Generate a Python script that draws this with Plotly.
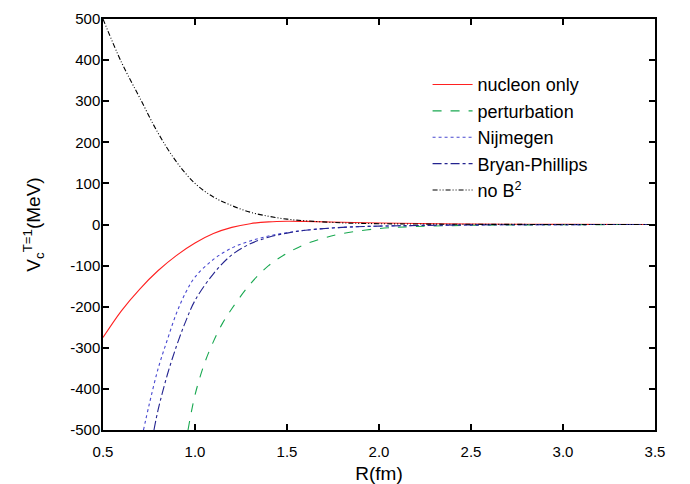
import plotly.graph_objects as go

# Data
r_nucleon = [0.5, 0.6, 0.7, 0.8, 0.9, 1.0, 1.1, 1.2, 1.3, 1.4, 1.5, 1.6, 1.8, 2.0, 2.5, 3.0, 3.5]
v_nucleon = [-275, -210, -157, -112, -75, -45, -22, -7, 2, 6.5, 8, 7.5, 5.5, 3.5, 1.2, 0.4, 0.1]

r_pert = [0.962, 1.0, 1.05, 1.1, 1.15, 1.2, 1.3, 1.4, 1.5, 1.6, 1.7, 1.8, 2.0, 2.2, 2.5, 3.0, 3.5]
v_pert = [-500, -415, -340, -285, -240, -205, -145, -100, -70, -48, -33, -22, -10, -5, -2, -0.5, 0]

r_nij = [0.72, 0.75, 0.8, 0.85, 0.9, 0.95, 1.0, 1.1, 1.2, 1.3, 1.4, 1.5, 1.6, 1.8, 2.0, 2.5, 3.0, 3.5]
v_nij = [-500, -440, -350, -280, -215, -165, -128, -85, -57, -40, -28, -20, -14, -7, -4, -1, -0.3, 0]

r_bp = [0.777, 0.8, 0.85, 0.9, 0.95, 1.0, 1.1, 1.2, 1.3, 1.4, 1.5, 1.6, 1.8, 2.0, 2.5, 3.0, 3.5]
v_bp = [-500, -450, -365, -295, -235, -185, -120, -74, -47, -31, -21, -14, -7, -4, -1, -0.3, 0]

r_nob2 = [0.5, 0.6, 0.7, 0.8, 0.9, 1.0, 1.1, 1.2, 1.3, 1.4, 1.5, 1.6, 1.8, 2.0, 2.5, 3.0, 3.5]
v_nob2 = [500, 395, 308, 222, 152, 100, 67, 46, 30, 20, 13, 9, 4, 2, 0.5, 0.1, 0]

x_ticks = [0.5, 1.0, 1.5, 2.0, 2.5, 3.0, 3.5]
y_ticks = [-500, -400, -300, -200, -100, 0, 100, 200, 300, 400, 500]

series = [
    ("nucleon only", r_nucleon, v_nucleon, "#ff2020", "solid"),
    ("perturbation", r_pert, v_pert, "#18a850", "dash"),
    ("Nijmegen", r_nij, v_nij, "#4848d0", "dot"),
    ("Bryan-Phillips", r_bp, v_bp, "#23238f", "dashdot"),
    ("no B<sup>2</sup>", r_nob2, v_nob2, "#000000", "5px,2px,1px,2px,1px,2px"),
]

FONT = "Liberation Sans, Arial, sans-serif"

fig = go.Figure()
for name, x, y, color, dash in series:
    fig.add_trace(go.Scatter(
        x=x, y=y, mode="lines", name=name,
        line=dict(color=color, width=1.1, dash=dash, shape="spline", smoothing=1.0),
    ))

axis_common = dict(
    showline=True, linecolor="black", linewidth=1.5, mirror="ticks",
    ticks="inside", ticklen=6, tickwidth=1.5, tickcolor="black",
    showgrid=False, zeroline=False, automargin=False,
    tickfont=dict(family=FONT, size=15, color="black"),
)

fig.update_xaxes(
    range=[0.5, 3.5], tickvals=x_ticks, ticktext=[f"{v:.1f}" for v in x_ticks],
    ticklabelstandoff=7,
    title=dict(text="R(fm)", font=dict(family=FONT, size=19, color="black"), standoff=9),
    **axis_common,
)
fig.update_yaxes(
    range=[-500, 500], tickvals=y_ticks, ticktext=[str(v) for v in y_ticks],
    ticklabelstandoff=-2,
    title=dict(text="V<sub>c</sub><sup>T=1</sup>(MeV)", font=dict(family=FONT, size=19, color="black"), standoff=25),
    **axis_common,
)

fig.update_layout(
    width=690, height=484,
    margin=dict(l=103, r=35, t=19, b=54),
    paper_bgcolor="white", plot_bgcolor="white",
    showlegend=True,
    legend=dict(
        x=0.588, y=0.885, xanchor="left", yanchor="top",
        bgcolor="rgba(0,0,0,0)", borderwidth=0,
        font=dict(family=FONT, size=18, color="black"),
        tracegroupgap=0, itemwidth=40,
    ),
)

fig.write_html("out.html")
